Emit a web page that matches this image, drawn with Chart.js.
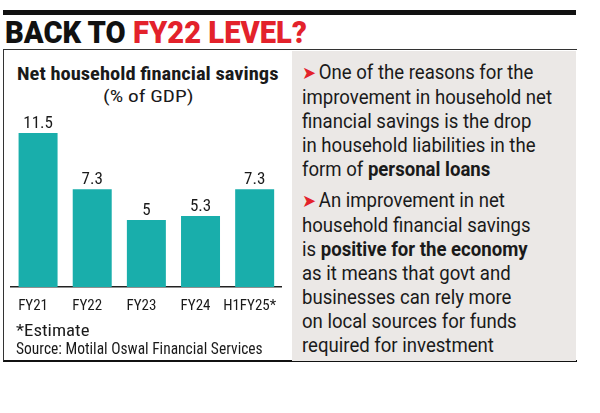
<!DOCTYPE html>
<html>
<head>
<meta charset="utf-8">
<script src="https://cdn.jsdelivr.net/npm/chart.js@4"></script>
<style>
  body { margin: 0; width: 600px; height: 413px; background: #fff; position: relative; overflow: hidden;
         font-family: Roboto, sans-serif; color: #1a1a1a; }
  .rule { position: absolute; left: 3px; top: 10px; width: 573px; height: 5px; background: #111; }
  .fit { transform-origin: 0 0; white-space: nowrap; }
  .headline { position: absolute; left: 5px; top: 17px; margin: 0; font-size: 31px; line-height: 31px;
              font-weight: 900; color: #111; }
  .headline span { color: #e3222b; }
  .box { position: absolute; left: 3px; top: 49px; width: 573px; height: 310px;
         border-top: 1.5px solid #333; border-left: 1.5px solid #333; border-bottom: 2.5px solid #111; }
  .panel { position: absolute; left: 292px; top: 51px; width: 284px; height: 310px; background: #ebe8e6; }
  .cond { font-family: "Roboto Condensed", Roboto, sans-serif; }
  .ctitle { position: absolute; left: 17px; font-weight: bold; font-size: 18px; line-height: 20px; top: 64px; }
  .csub { position: absolute; left: 103px; font-size: 17px; line-height: 20px; top: 86px; }
  .note { position: absolute; left: 16px; font-size: 17px; line-height: 20px; }
  .text { position: absolute; left: 302px; top: 60px; font-size: 20px; line-height: 24px; }
  .text p { margin: 0 0 7px 0; }
  .arr { color: #e3222b; font-family: "DejaVu Sans", sans-serif; font-size: 18px; margin-right: 3px; }
  #wrap { position: absolute; left: 3px; top: 105px; width: 289px; height: 220px; }
</style>
</head>
<body>
<div class="rule"></div>
<h1 class="headline fit" data-w="302">BACK TO <span>FY22 LEVEL?</span></h1>
<div class="box"></div>
<div class="panel"></div>
<div class="ctitle cond fit" data-w="261">Net household financial savings</div>
<div class="csub cond fit" data-w="90">(% of GDP)</div>
<div id="wrap"><canvas id="chart" width="289" height="220"></canvas></div>
<div class="note cond fit" data-w="73" style="top:320px">*Estimate</div>
<div class="note cond fit" data-w="247" style="top:338px">Source: Motilal Oswal Financial Services</div>
<div class="text fit" id="txt">
  <p><span class="arr">➤</span>One of the reasons for the<br>improvement in household net<br>financial savings is the drop<br>in household liabilities in the<br>form of <b>personal loans</b></p>
  <p><span class="arr">➤</span>An improvement in net<br>household financial savings<br>is <b>positive for the economy</b><br>as it means that govt and<br>businesses can rely more<br>on local sources for funds<br>required for investment</p>
</div>
<script>
// chart data
const years = ['FY21', 'FY22', 'FY23', 'FY24', 'H1FY25*'];
const savings = [11.5, 7.3, 5, 5.3, 7.3];
const valueLabels = ['11.5', '7.3', '5', '5.3', '7.3'];

// squeeze text blocks to the widths in the reference
document.querySelectorAll('.fit[data-w]').forEach(el => {
    const s = el.dataset.w / el.scrollWidth;
    el.style.transform = `scaleX(${s})`;
});
// right panel: scale by the width of its second line
(function(){
    const c = document.createElement('canvas').getContext('2d');
    c.font = '20px Roboto';
    const s = 250 / c.measureText('improvement in household net').width;
    document.getElementById('txt').style.transform = `scaleX(${s})`;
})();

// draws the value above each bar
const barLabels = {
    id: 'barLabels',
    afterDatasetsDraw(chart) {
        const ctx = chart.ctx;
        const meta = chart.getDatasetMeta(0);
        ctx.save();
        ctx.fillStyle = '#1a1a1a';
        ctx.font = '17px "Roboto Condensed"';
        ctx.textAlign = 'center';
        ctx.textBaseline = 'alphabetic';
        meta.data.forEach((bar, i) => {
            ctx.fillText(valueLabels[i], bar.x, bar.y - 5);
        });
        ctx.restore();
    }
};

new Chart(document.getElementById('chart'), {
    type: 'bar',
    data: {
        labels: years,
        datasets: [{ data: savings, backgroundColor: '#19aeab', borderWidth: 0,
                     categoryPercentage: 1, barPercentage: 0.72 }]
    },
    options: {
        responsive: false,
        animation: false,
        layout: { padding: { left: 8, right: 8, top: 0, bottom: 0 } },
        plugins: { legend: { display: false }, tooltip: { enabled: false } },
        scales: {
            x: {
                grid: { display: false, drawTicks: false },
                border: { display: true, color: '#222', width: 1.5 },
                ticks: { color: '#1a1a1a', font: { family: 'Roboto Condensed', size: 15 }, padding: 10, labelOffset: -5,
                         maxRotation: 0, minRotation: 0, autoSkip: false }
            },
            y: { display: false, min: 0, max: 13.6 }
        }
    },
    plugins: [barLabels]
});
</script>
</body>
</html>
